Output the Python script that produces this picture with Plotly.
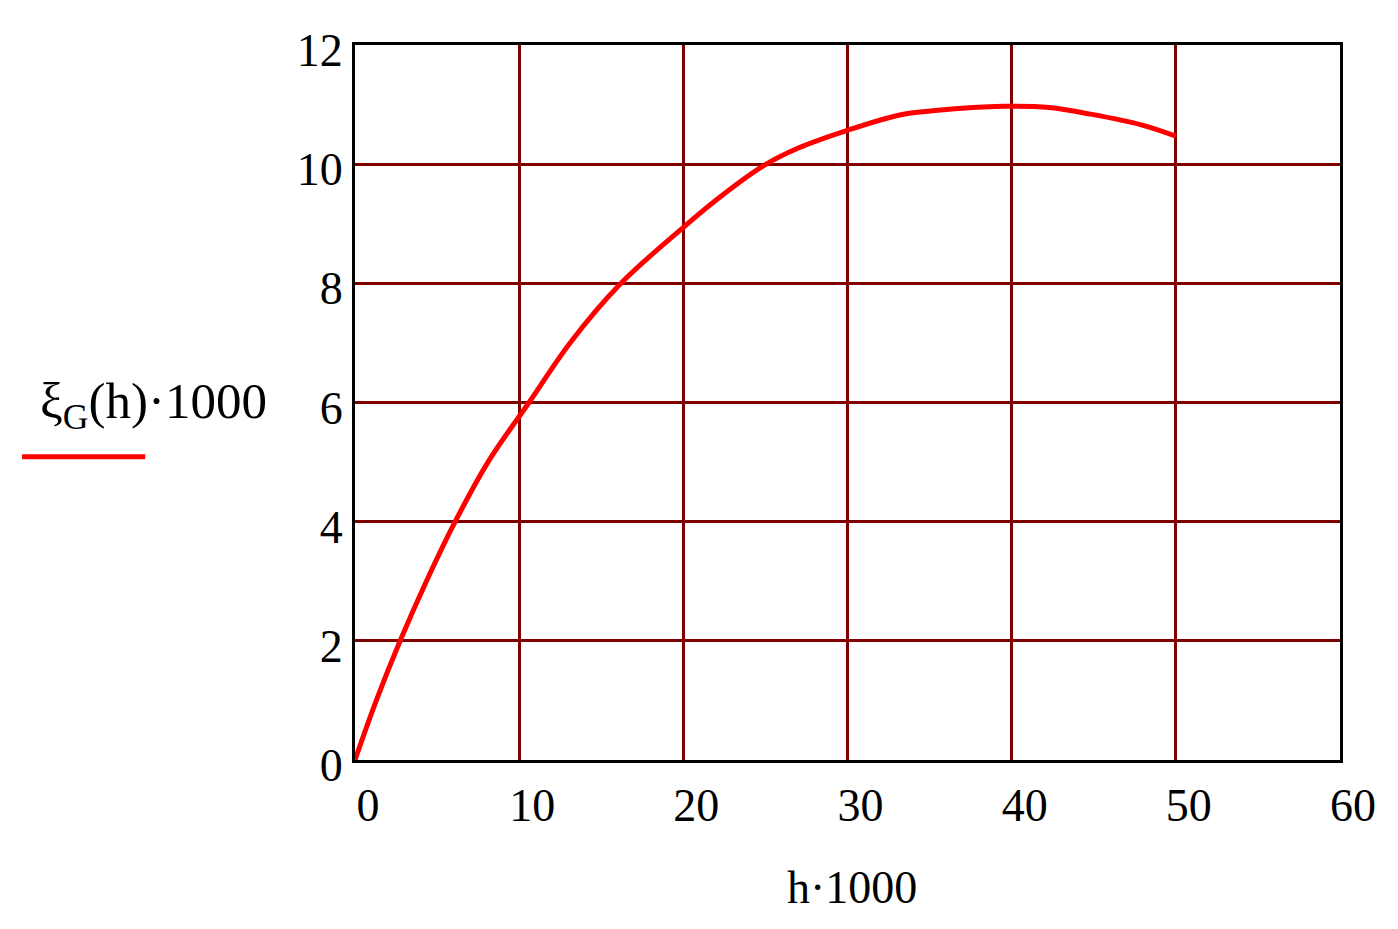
import plotly.graph_objects as go

# values
h_scaled = [0, 1.3, 2.75, 4.35, 6.1, 8.1, 10.6, 13.1, 16.2, 20,
            22, 24.8, 27, 29.9, 33.25, 35.35, 39.5, 42.3, 44.8, 47.9, 50]
xi_scaled = [0, 1, 2, 3, 4, 5, 6, 7, 8, 8.94,
             9.4, 9.96, 10.27, 10.56, 10.83, 10.9, 10.97, 10.95, 10.84, 10.66, 10.47]

x_ticks = [0, 10, 20, 30, 40, 50, 60]
y_ticks = [0, 2, 4, 6, 8, 10, 12]

FONT = "Liberation Serif"
GRID = "#800000"

fig = go.Figure()

fig.add_trace(go.Scatter(
    x=h_scaled, y=xi_scaled,
    mode="lines",
    line=dict(color="#ff0000", width=5, shape="spline", smoothing=1.0),
    showlegend=False,
    hoverinfo="skip",
))

axis_common = dict(
    showgrid=True, gridcolor=GRID, gridwidth=3,
    showline=True, linecolor="black", linewidth=3, mirror=True,
    zeroline=False, ticks="",
    tickfont=dict(family=FONT, size=46, color="black"),
)

fig.update_xaxes(range=[0, 60], tickvals=x_ticks, ticklabelshift=13,
                 ticklabelstandoff=3, **axis_common)
fig.update_yaxes(range=[0, 12], tickvals=y_ticks, ticklabelstandoff=0,
                 ticklabelshift=5, **axis_common)

# axis titles, placed like the Mathcad labels
fig.add_annotation(text="h·1000", xref="paper", yref="paper",
                   x=0.505, y=-0.179, xanchor="center", yanchor="middle",
                   showarrow=False, font=dict(family=FONT, size=46, color="black"))
fig.add_annotation(text="ξ<sub>G</sub>(h)·1000", xref="paper", yref="paper",
                   x=-0.205, y=0.497, xanchor="center", yanchor="middle",
                   showarrow=False, font=dict(family=FONT, size=51, color="black"))
# trace legend swatch under the y label
fig.add_shape(type="line", xref="paper", yref="paper",
              x0=-0.338, x1=-0.213, y0=0.424, y1=0.424,
              line=dict(color="#ff0000", width=5))

# page body adds an 8px margin, so the figure is drawn 8px in from the corner
fig.update_layout(
    width=1382, height=913,
    margin=dict(l=347, r=50, t=37, b=161),
    plot_bgcolor="white", paper_bgcolor="white",
)

fig.write_html("out.html")
